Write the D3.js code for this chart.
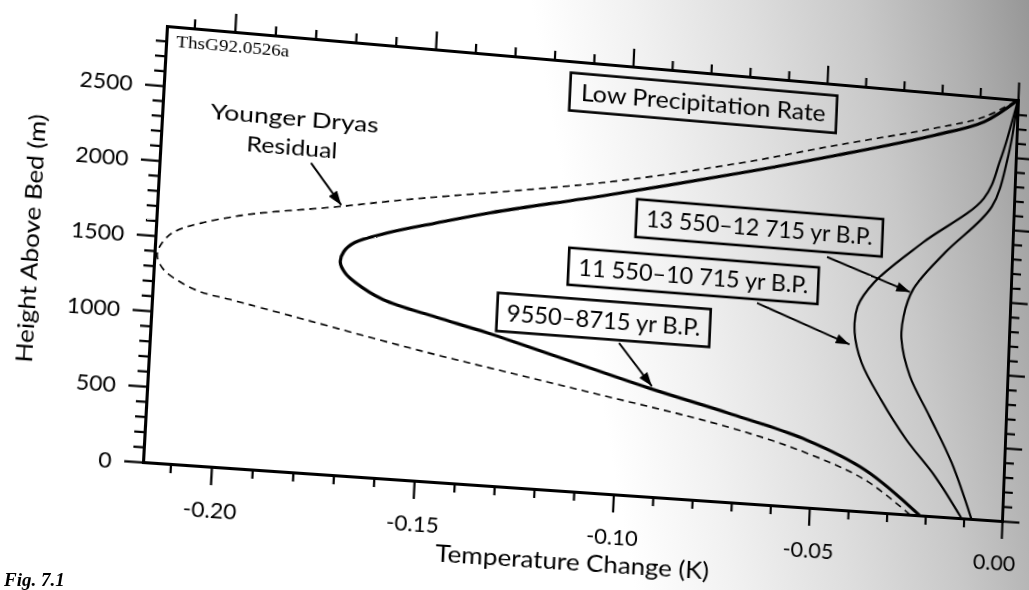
<!DOCTYPE html>
<html><head><meta charset="utf-8">
<script src="https://cdn.jsdelivr.net/npm/d3@7"></script>
<style>
html,body{margin:0;padding:0;width:1029px;height:590px;overflow:hidden;}
body{background: linear-gradient(80deg, #ffffff 0%, #ffffff 56%, #f1f1f1 65%, #dedede 75%, #c8c8c8 85%, #b0b0b0 93%, #979797 100%);}
#chart{position:absolute;left:0;top:0;transform-origin:0 0;}
#cap{position:absolute;left:0;top:0;}
</style></head><body>
<svg id="chart" width="1029" height="590"></svg>
<svg id="cap" width="1029" height="590"></svg>
<script>
// ---------- data ----------
const xDomain = [-0.2167, 0];
const yDomain = [0, 2900];
const xTicksMajor = [-0.20, -0.15, -0.10, -0.05, 0.00];
const xTickLabels = ["-0.20", "-0.15", "-0.10", "-0.05", "0.00"];
const yTicksMajor = [0, 500, 1000, 1500, 2000, 2500];
const yTickLabels = ["0", "500", "1000", "1500", "2000", "2500"];

// Younger Dryas residual (dashed)
const ydH = [0, 214, 369, 507, 698, 868, 1018, 1115, 1148, 1203, 1280, 1364, 1435, 1532, 1669, 1788, 1872, 2101, 2304, 2484, 2658, 2763, 2900];
const ydT = [-0.024, -0.0359, -0.0513, -0.0717, -0.1127, -0.150, -0.179, -0.1978, -0.2047, -0.2099, -0.2143, -0.216, -0.2154, -0.2123, -0.1974, -0.1723, -0.1554, -0.105, -0.0716, -0.0465, -0.0212, -0.0087, 0];
// 9550–8715 yr B.P. (thick)
const s9H = [0, 282, 457, 602, 731, 1021, 1100, 1191, 1290, 1350, 1416, 1490, 1557, 1642, 1729, 1829, 2013, 2236, 2415, 2610, 2729, 2900];
const s9T = [-0.0215, -0.036, -0.0514, -0.0719, -0.0923, -0.1335, -0.1465, -0.160, -0.167, -0.1697, -0.171, -0.1703, -0.1677, -0.1593, -0.148, -0.1343, -0.1049, -0.0715, -0.0464, -0.0212, -0.0087, 0];
// 11 550–10 715 yr B.P.
const s11H = [0, 269, 508, 768, 1010, 1212, 1391, 1563, 1864, 2200, 2478, 2900];
const s11T = [-0.0106, -0.0178, -0.0257, -0.0327, -0.0381, -0.0402, -0.0397, -0.0357, -0.0234, -0.008, -0.004, 0];
// 13 550–12 715 yr B.P.
const s13H = [0, 373, 677, 940, 1189, 1348, 1537, 1808, 2149, 2481, 2900];
const s13T = [-0.008, -0.0137, -0.0199, -0.0254, -0.028, -0.0277, -0.0255, -0.0175, -0.0058, -0.0022, 0];

// ---------- geometry (page is photographed at an angle) ----------
const L = 155, R = 1010, T = 63, B = 492;
const dstCorners = [[167, 26], [1018, 100], [1002, 521], [143, 462]];
const srcCorners = [[L, T], [R, T], [R, B], [L, B]];

function solveHomography(src, dst) {
  const A = [], b = [];
  for (let i = 0; i < 4; i++) {
    const [x, y] = src[i], [X, Y] = dst[i];
    A.push([x, y, 1, 0, 0, 0, -x * X, -y * X]); b.push(X);
    A.push([0, 0, 0, x, y, 1, -x * Y, -y * Y]); b.push(Y);
  }
  const n = 8;
  for (let c = 0; c < n; c++) {
    let p = c;
    for (let r = c + 1; r < n; r++) if (Math.abs(A[r][c]) > Math.abs(A[p][c])) p = r;
    [A[c], A[p]] = [A[p], A[c]]; [b[c], b[p]] = [b[p], b[c]];
    for (let r = 0; r < n; r++) {
      if (r === c) continue;
      const f = A[r][c] / A[c][c];
      for (let k = c; k < n; k++) A[r][k] -= f * A[c][k];
      b[r] -= f * b[c];
    }
  }
  const h = b.map((v, i) => v / A[i][i]);
  return [[h[0], h[1], h[2]], [h[3], h[4], h[5]], [h[6], h[7], 1]];
}
function inv3(m) {
  const [a, b, c] = m[0], [d, e, f] = m[1], [g, h, i] = m[2];
  const A = e * i - f * h, Bc = -(d * i - f * g), C = d * h - e * g;
  const det = a * A + b * Bc + c * C;
  return [
    [A / det, -(b * i - c * h) / det, (b * f - c * e) / det],
    [Bc / det, (a * i - c * g) / det, -(a * f - c * d) / det],
    [C / det, -(a * h - b * g) / det, (a * e - b * d) / det]
  ];
}
const H = solveHomography(srcCorners, dstCorners);
const Hi = inv3(H);
function inv(X, Y) {
  const w = Hi[2][0] * X + Hi[2][1] * Y + Hi[2][2];
  return [(Hi[0][0] * X + Hi[0][1] * Y + Hi[0][2]) / w, (Hi[1][0] * X + Hi[1][1] * Y + Hi[1][2]) / w];
}
const m3d = [H[0][0], H[1][0], 0, H[2][0], H[0][1], H[1][1], 0, H[2][1], 0, 0, 1, 0, H[0][2], H[1][2], 0, H[2][2]];
d3.select("#chart").style("transform", `matrix3d(${m3d.join(",")})`);

// ---------- chart ----------
const svg = d3.select("#chart");
const FONT = "Lato, 'Open Sans', sans-serif";
const x = d3.scaleLinear().domain(xDomain).range([L, R]);
const y = d3.scaleLinear().domain(yDomain).range([B, T]);

const xMinor = d3.range(-21, 1).filter(i => i % 5 !== 0).map(i => i / 100);
const yMinor = d3.range(0, 29).filter(i => i % 5 !== 0).map(i => i * 100);

function styleAxis(sel) {
  sel.selectAll(".domain").attr("stroke", "#000").attr("stroke-width", 3).attr("stroke-linecap", "square");
  sel.selectAll(".tick line").attr("stroke", "#000").attr("stroke-width", 2.2);
  sel.selectAll(".tick text").attr("fill", "#000").style("font-family", FONT).style("font-size", "22px");
}
const ax = svg.append("g");
ax.append("g").attr("transform", `translate(0,${B})`)
  .call(d3.axisBottom(x).tickValues(xMinor).tickSize(9).tickSizeOuter(0).tickFormat("")).call(styleAxis);
const xMaj = ax.append("g").attr("transform", `translate(0,${B})`)
  .call(d3.axisBottom(x).tickValues(xTicksMajor).tickSize(18).tickSizeOuter(0).tickPadding(16)
    .tickFormat((d, i) => xTickLabels[i])).call(styleAxis);
// last label sits at the page edge: nudge it inward as in the original
xMaj.selectAll(".tick text").filter(d => d === 0).attr("dx", "-7");
ax.append("g").attr("transform", `translate(0,${T})`)
  .call(d3.axisTop(x).tickValues(xMinor).tickSize(9).tickSizeOuter(0).tickFormat("")).call(styleAxis);
ax.append("g").attr("transform", `translate(0,${T})`)
  .call(d3.axisTop(x).tickValues(xTicksMajor).tickSize(18).tickSizeOuter(0).tickFormat("")).call(styleAxis);
ax.append("g").attr("transform", `translate(${L},0)`)
  .call(d3.axisLeft(y).tickValues(yMinor).tickSize(10).tickSizeOuter(0).tickFormat("")).call(styleAxis);
ax.append("g").attr("transform", `translate(${L},0)`)
  .call(d3.axisLeft(y).tickValues(yTicksMajor).tickSize(18).tickSizeOuter(0).tickPadding(12)
    .tickFormat((d, i) => yTickLabels[i])).call(styleAxis);
ax.append("g").attr("transform", `translate(${R},0)`)
  .call(d3.axisRight(y).tickValues(yMinor).tickSize(10).tickSizeOuter(0).tickFormat("")).call(styleAxis);
ax.append("g").attr("transform", `translate(${R},0)`)
  .call(d3.axisRight(y).tickValues(yTicksMajor).tickSize(18).tickSizeOuter(0).tickFormat("")).call(styleAxis);

// curves
const line = d3.line().x(d => x(d.t)).y(d => y(d.h)).curve(d3.curveCatmullRom.alpha(0.5));
const zip = (hs, ts) => hs.map((h, i) => ({ h: h, t: ts[i] }));
const series = [
  { pts: zip(ydH, ydT), w: 1.6, dash: "7,5" },
  { pts: zip(s9H, s9T), w: 3.2, dash: null },
  { pts: zip(s11H, s11T), w: 2.2, dash: null },
  { pts: zip(s13H, s13T), w: 2.2, dash: null }
];
svg.append("g").selectAll("path").data(series).join("path")
  .attr("d", d => line(d.pts)).attr("fill", "none").attr("stroke", "#000")
  .attr("stroke-width", d => d.w).attr("stroke-dasharray", d => d.dash)
  .attr("stroke-linejoin", "round");

// arrow marker
svg.append("defs").append("marker").attr("id", "ah").attr("markerUnits", "userSpaceOnUse")
  .attr("viewBox", "0 0 14 10").attr("refX", 14).attr("refY", 5)
  .attr("markerWidth", 14).attr("markerHeight", 10).attr("orient", "auto")
  .append("path").attr("d", "M0,0 L14,5 L0,10 Z").attr("fill", "#000");

// annotations: text placed at screen positions, arrows end on curves
const texts = [
  { t: "ThsG92.0526a", sx: 233, sy: 46, size: 17, len: 110, font: "'Liberation Serif', 'DejaVu Serif', serif" },
  { t: "Younger Dryas", sx: 295, sy: 118, size: 22, len: 164 },
  { t: "Residual", sx: 292, sy: 147, size: 22, len: 89 }
];
const boxes = [
  { t: "Low Precipitation Rate", sx: 704, sy: 103, w: 270, h: 38, len: 248 },
  { t: "13 550–12 715 yr B.P.", sx: 760, sy: 228, w: 250, h: 38, len: 230 },
  { t: "11 550–10 715 yr B.P.", sx: 694, sy: 276, w: 252, h: 37, len: 232 },
  { t: "9550–8715 yr B.P.", sx: 604, sy: 320, w: 213, h: 38, len: 194 }
];
const arrows = [
  { sx: 311, sy: 163, t: -0.1715, h: 1800 },
  { sx: 619, sy: 343, t: -0.0915, h: 745 },
  { sx: 757, sy: 303, t: -0.0414, h: 1128 },
  { sx: 827, sy: 257, t: -0.0263, h: 1517 }
];
const ann = svg.append("g");
texts.forEach(d => {
  const [ux, uy] = inv(d.sx, d.sy);
  ann.append("text").attr("x", ux).attr("y", uy).attr("dy", "0.35em")
    .attr("text-anchor", "middle").style("font-family", d.font || FONT).style("font-size", d.size + "px")
    .attr("textLength", d.len).attr("lengthAdjust", "spacingAndGlyphs").text(d.t);
});
boxes.forEach(d => {
  const [ux, uy] = inv(d.sx, d.sy);
  ann.append("rect").attr("x", ux - d.w / 2).attr("y", uy - d.h / 2).attr("width", d.w).attr("height", d.h)
    .attr("fill", "none").attr("stroke", "#000").attr("stroke-width", 2.6);
  ann.append("text").attr("x", ux).attr("y", uy).attr("dy", "0.36em")
    .attr("text-anchor", "middle").style("font-family", FONT).style("font-size", "23px")
    .attr("textLength", d.len).attr("lengthAdjust", "spacingAndGlyphs").text(d.t);
});
arrows.forEach(d => {
  const [ux, uy] = inv(d.sx, d.sy);
  ann.append("line").attr("x1", ux).attr("y1", uy).attr("x2", x(d.t)).attr("y2", y(d.h))
    .attr("stroke", "#000").attr("stroke-width", 2).attr("marker-end", "url(#ah)");
});

// axis titles
{
  const [ux, uy] = inv(31, 238);
  ann.append("text").attr("transform", `translate(${ux},${uy}) rotate(-90)`).attr("dy", "0.35em")
    .attr("text-anchor", "middle").style("font-family", FONT).style("font-size", "22px")
    .attr("textLength", 243).attr("lengthAdjust", "spacingAndGlyphs").text("Height Above Bed (m)");
  const [vx, vy] = inv(573, 562);
  ann.append("text").attr("x", vx).attr("y", vy).attr("dy", "0.35em")
    .attr("text-anchor", "middle").style("font-family", FONT).style("font-size", "23px")
    .attr("textLength", 272).attr("lengthAdjust", "spacingAndGlyphs").text("Temperature Change (K)");
}

// caption fragment at page bottom
d3.select("#cap").append("text").attr("x", 4).attr("y", 586)
  .style("font-family", "'Liberation Serif', serif").style("font-size", "19px")
  .style("font-weight", "bold").style("font-style", "italic").text("Fig. 7.1");
</script>
</body></html>
